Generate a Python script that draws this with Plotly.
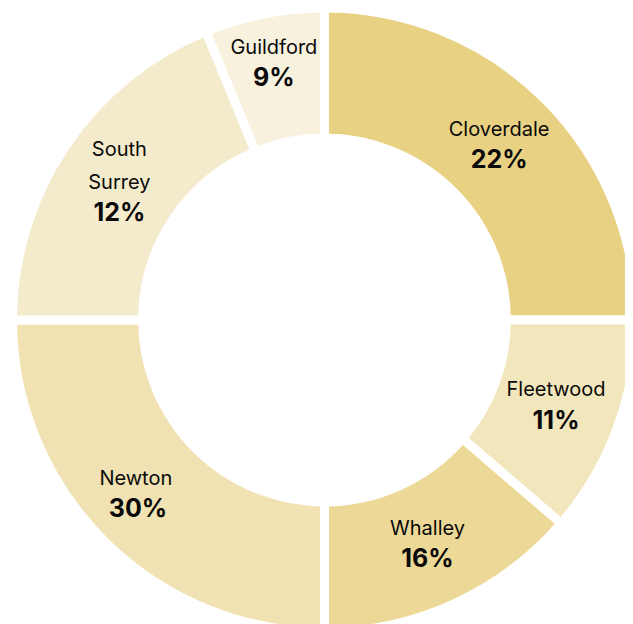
import plotly.graph_objects as go

# Neighbourhood names and displayed percentage labels
names = ["Cloverdale", "Fleetwood", "Whalley", "Newton", "South Surrey", "Guildford"]
display_names = ["Cloverdale", "Fleetwood", "Whalley", "Newton", "South<br>Surrey", "Guildford"]
pct_labels = ["22%", "11%", "16%", "30%", "12%", "9%"]
# Arc shares as drawn in the picture
arc_values = [25, 11.3, 13.7, 25, 18.8, 6.2]
colors = ["#E8D183", "#F2E6BC", "#EDD997", "#F0E2B2", "#F4EBCC", "#F7F1DE"]

# per-label line spacing (base font size) and trailing padding
base_sizes = [25, 25, 25, 25, 21, 25]
pad_name = ["", "", "", "\u00a0" * 5, "", ""]
pad_pct = ["", "", "", "\u00a0" * 4, "", ""]

texts = [
    f"<span style='font-size:20px'>{n}{a}</span><br><span style='font-size:25px'><b>{p}{b}</b></span>"
    for n, p, a, b in zip(display_names, pct_labels, pad_name, pad_pct)
]

fig = go.Figure(
    go.Pie(
        labels=names,
        values=arc_values,
        text=texts,
        textinfo="text",
        textposition="inside",
        insidetextorientation="horizontal",
        sort=False,
        direction="clockwise",
        rotation=0,
        hole=0.583,
        marker=dict(colors=colors, line=dict(color="white", width=9)),
        textfont=dict(family="Inter, 'Noto Sans', sans-serif", size=base_sizes, color="#0a0a0a"),
        hoverinfo="label",
        showlegend=False,
    )
)

fig.update_layout(
    width=633,
    height=624,
    margin=dict(l=0, r=0, t=0, b=0),
    paper_bgcolor="white",
    plot_bgcolor="white",
    uniformtext=dict(minsize=25, mode="show"),
)

fig.write_html("out.html")
